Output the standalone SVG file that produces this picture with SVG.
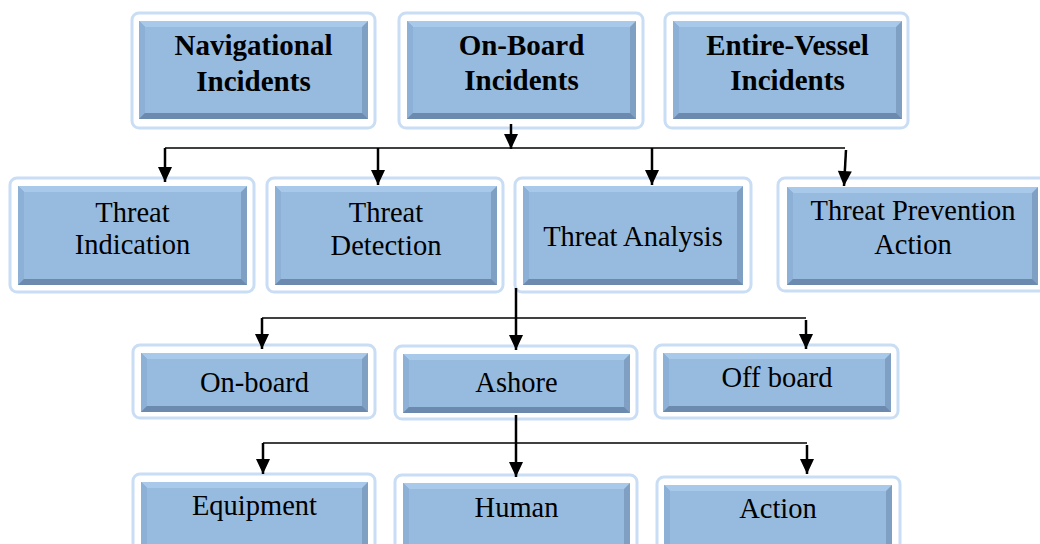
<svg xmlns="http://www.w3.org/2000/svg" width="1040" height="544" viewBox="0 0 1040 544">
<defs>
<style>
.frame{fill:#ffffff;stroke:#c9def5;stroke-width:3}
.base{fill:#7f9fc3}
.top{fill:#a9c9eb}
.left{fill:#8cb0d6}
.bot{fill:#6c8aad}
.face{fill:#97bbdf}
text{font-family:'Liberation Serif','Times New Roman',Times,serif;fill:#000;text-anchor:middle}
.b{font-weight:bold;font-size:29px}
.r{font-size:28.5px}
.arr{stroke:#000;stroke-width:2.5;fill:none;marker-end:url(#ah)}
.hl{stroke:#000;stroke-width:1.5;fill:none}
</style>
<marker id="ah" markerUnits="userSpaceOnUse" markerWidth="16" markerHeight="16" refX="15" refY="8" orient="auto" overflow="visible">
<path d="M0,1 L15,8 L0,15 z" fill="#000"/>
</marker>
</defs>
<rect width="1040" height="544" fill="#ffffff"/>

<g id="navigational">
<rect class="frame" x="132" y="13" width="243" height="115" rx="7"/>
<rect class="base" x="139" y="21" width="229" height="98"/>
<polygon class="top" points="139,21 368,21 362,27 145,27"/>
<polygon class="left" points="139,21 145,27 145,113 139,119"/>
<polygon class="bot" points="139,119 145,113 362,113 368,119"/>
<rect class="face" x="145" y="27" width="217" height="86"/>
<text class="b" x="253.5" y="55">Navigational</text>
<text class="b" x="253.5" y="91">Incidents</text>
</g>

<g id="onboard-incidents">
<rect class="frame" x="399" y="13" width="244" height="115" rx="7"/>
<rect class="base" x="407" y="21" width="229" height="98"/>
<polygon class="top" points="407,21 636,21 630,27 413,27"/>
<polygon class="left" points="407,21 413,27 413,113 407,119"/>
<polygon class="bot" points="407,119 413,113 630,113 636,119"/>
<rect class="face" x="413" y="27" width="217" height="86"/>
<text class="b" x="521.5" y="55">On-Board</text>
<text class="b" x="521.5" y="90">Incidents</text>
</g>

<g id="entire-vessel-incidents">
<rect class="frame" x="665" y="13" width="243" height="115" rx="7"/>
<rect class="base" x="673" y="21" width="229" height="98"/>
<polygon class="top" points="673,21 902,21 896,27 679,27"/>
<polygon class="left" points="673,21 679,27 679,113 673,119"/>
<polygon class="bot" points="673,119 679,113 896,113 902,119"/>
<rect class="face" x="679" y="27" width="217" height="86"/>
<text class="b" x="787.5" y="55">Entire-Vessel</text>
<text class="b" x="787.5" y="90">Incidents</text>
</g>

<g id="threat-indication">
<rect class="frame" x="10" y="178" width="244" height="114" rx="7"/>
<rect class="base" x="18" y="186" width="229" height="99"/>
<polygon class="top" points="18,186 247,186 241,192 24,192"/>
<polygon class="left" points="18,186 24,192 24,279 18,285"/>
<polygon class="bot" points="18,285 24,279 241,279 247,285"/>
<rect class="face" x="24" y="192" width="217" height="87"/>
<text class="r" x="132.5" y="222">Threat</text>
<text class="r" x="132.5" y="254">Indication</text>
</g>

<g id="threat-detection">
<rect class="frame" x="267" y="178" width="236" height="114" rx="7"/>
<rect class="base" x="275" y="186" width="222" height="99"/>
<polygon class="top" points="275,186 497,186 491,192 281,192"/>
<polygon class="left" points="275,186 281,192 281,279 275,285"/>
<polygon class="bot" points="275,285 281,279 491,279 497,285"/>
<rect class="face" x="281" y="192" width="210" height="87"/>
<text class="r" x="386" y="222">Threat</text>
<text class="r" x="386" y="255">Detection</text>
</g>

<g id="threat-analysis">
<rect class="frame" x="515" y="178" width="236" height="114" rx="7"/>
<rect class="base" x="523" y="186" width="220" height="99"/>
<polygon class="top" points="523,186 743,186 737,192 529,192"/>
<polygon class="left" points="523,186 529,192 529,279 523,285"/>
<polygon class="bot" points="523,285 529,279 737,279 743,285"/>
<rect class="face" x="529" y="192" width="208" height="87"/>
<text class="r" x="633" y="246">Threat Analysis</text>
</g>

<g id="threat-prevention-action">
<rect class="frame" x="778" y="178" width="270" height="113" rx="7"/>
<rect class="base" x="787" y="187" width="251" height="98"/>
<polygon class="top" points="787,187 1038,187 1032,193 793,193"/>
<polygon class="left" points="787,187 793,193 793,279 787,285"/>
<polygon class="bot" points="787,285 793,279 1032,279 1038,285"/>
<rect class="face" x="793" y="193" width="239" height="86"/>
<text class="r" x="913" y="220">Threat Prevention</text>
<text class="r" x="913" y="254">Action</text>
</g>

<g id="on-board">
<rect class="frame" x="133" y="345" width="242" height="73" rx="7"/>
<rect class="base" x="141" y="353" width="227" height="59"/>
<polygon class="top" points="141,353 368,353 362,359 147,359"/>
<polygon class="left" points="141,353 147,359 147,406 141,412"/>
<polygon class="bot" points="141,412 147,406 362,406 368,412"/>
<rect class="face" x="147" y="359" width="215" height="47"/>
<text class="r" x="254.5" y="392">On-board</text>
</g>

<g id="ashore">
<rect class="frame" x="395" y="346" width="242" height="73" rx="7"/>
<rect class="base" x="403" y="354" width="227" height="59"/>
<polygon class="top" points="403,354 630,354 624,360 409,360"/>
<polygon class="left" points="403,354 409,360 409,407 403,413"/>
<polygon class="bot" points="403,413 409,407 624,407 630,413"/>
<rect class="face" x="409" y="360" width="215" height="47"/>
<text class="r" x="516.5" y="392">Ashore</text>
</g>

<g id="off-board">
<rect class="frame" x="655" y="345" width="243" height="73" rx="7"/>
<rect class="base" x="663" y="353" width="228" height="59"/>
<polygon class="top" points="663,353 891,353 885,359 669,359"/>
<polygon class="left" points="663,353 669,359 669,406 663,412"/>
<polygon class="bot" points="663,412 669,406 885,406 891,412"/>
<rect class="face" x="669" y="359" width="216" height="47"/>
<text class="r" x="777" y="387">Off board</text>
</g>

<g id="equipment">
<rect class="frame" x="133" y="474" width="242" height="80" rx="7"/>
<rect class="base" x="141" y="482" width="227" height="70"/>
<polygon class="top" points="141,482 368,482 362,488 147,488"/>
<polygon class="left" points="141,482 147,488 147,546 141,552"/>
<polygon class="bot" points="141,552 147,546 362,546 368,552"/>
<rect class="face" x="147" y="488" width="215" height="58"/>
<text class="r" x="254.5" y="515">Equipment</text>
</g>

<g id="human">
<rect class="frame" x="395" y="475" width="242" height="80" rx="7"/>
<rect class="base" x="403" y="483" width="227" height="70"/>
<polygon class="top" points="403,483 630,483 624,489 409,489"/>
<polygon class="left" points="403,483 409,489 409,547 403,553"/>
<polygon class="bot" points="403,553 409,547 624,547 630,553"/>
<rect class="face" x="409" y="489" width="215" height="58"/>
<text class="r" x="516.5" y="517">Human</text>
</g>

<g id="action">
<rect class="frame" x="657" y="477" width="243" height="80" rx="7"/>
<rect class="base" x="664" y="485" width="228" height="70"/>
<polygon class="top" points="664,485 892,485 886,491 670,491"/>
<polygon class="left" points="664,485 670,491 670,549 664,555"/>
<polygon class="bot" points="664,555 670,549 886,549 892,555"/>
<rect class="face" x="670" y="491" width="216" height="58"/>
<text class="r" x="778" y="518">Action</text>
</g>

<g id="connectors">
<line class="arr" x1="511" y1="124" x2="511" y2="149"/>
<line class="hl" x1="165" y1="148" x2="845" y2="148"/>
<line class="arr" x1="165" y1="148" x2="165" y2="182"/>
<line class="arr" x1="378" y1="148" x2="378" y2="185"/>
<line class="arr" x1="652" y1="148" x2="652" y2="185"/>
<line class="arr" x1="846" y1="150" x2="844" y2="186"/>
<line class="arr" x1="516" y1="288" x2="516" y2="350"/>
<line class="hl" x1="262" y1="318" x2="806" y2="318"/>
<line class="arr" x1="262" y1="318" x2="262" y2="349"/>
<line class="arr" x1="806" y1="320" x2="806" y2="349"/>
<line class="arr" x1="516" y1="415" x2="516" y2="477"/>
<line class="hl" x1="263" y1="443" x2="807" y2="443"/>
<line class="arr" x1="263" y1="443" x2="263" y2="474"/>
<line class="arr" x1="807" y1="445" x2="807" y2="474"/>
</g>
</svg>
